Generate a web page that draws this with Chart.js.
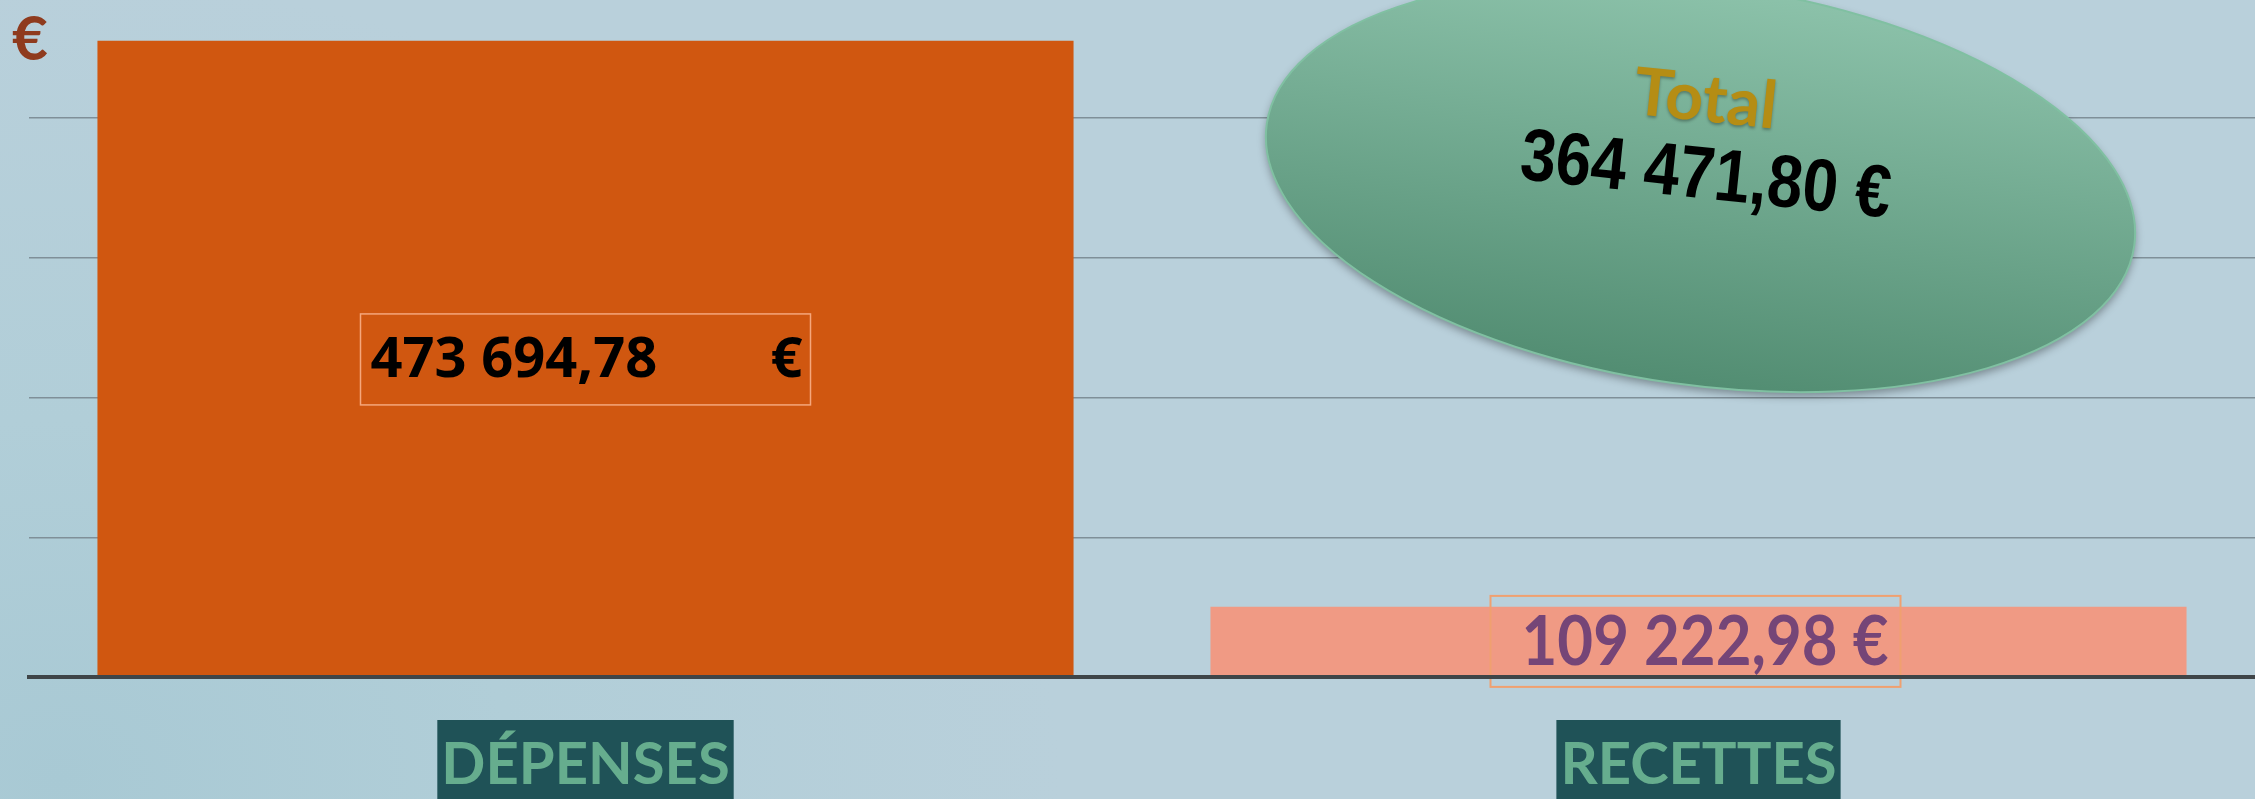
<!DOCTYPE html>
<html>
<head>
<meta charset="utf-8">
<script src="https://cdn.jsdelivr.net/npm/chart.js@4.4.0/dist/chart.umd.min.js"></script>
<style>
html, body { margin: 0; padding: 0; width: 2255px; height: 799px; overflow: hidden; }
body { background: radial-gradient(ellipse 1000px 800px at 60px 780px, #a8c9d4 0%, #b1ced8 45%, #b9d0db 100%); }
canvas { display: block; }
</style>
</head>
<body>
<canvas id="graf" width="2255" height="799"></canvas>
<script>
// données
const categories = ['DÉPENSES', 'RECETTES'];
const montants = [473694.78, 109222.98];
const couleurs = ['#d05710', '#f09a84'];
const yMin = 64000;
const yMax = 500000;
const yPas = 90000;

function formatEuro(v) {
    const parts = v.toFixed(2).split('.');
    return parts[0].replace(/\B(?=(\d{3})+(?!\d))/g, ' ') + ',' + parts[1];
}
const total = montants[0] - montants[1];

// texte horizontalement compressé pour tenir dans une largeur
function texteLargeur(ctx, txt, x, y, largeur) {
    const w = ctx.measureText(txt).width;
    ctx.save();
    ctx.translate(x, y);
    ctx.scale(largeur / w, 1);
    ctx.fillText(txt, 0, 0);
    ctx.restore();
}

const etiquettes = {
    id: 'etiquettes',
    afterDatasetsDraw(chart) {
        const ctx = chart.ctx;
        const bars = chart.getDatasetMeta(0).data;
        const bas = chart.chartArea.bottom;

        // symbole € en haut à gauche
        ctx.save();
        ctx.fillStyle = '#8f3b1e';
        ctx.font = 'bold 62px Lato';
        ctx.textBaseline = 'alphabetic';
        ctx.fillText('€', 12, 60);
        ctx.restore();

        // étiquette dépenses
        let b = bars[0];
        let cy = (b.y + bas) / 2;
        ctx.save();
        ctx.strokeStyle = '#f5a77c';
        ctx.lineWidth = 1.5;
        ctx.strokeRect(b.x - 225, cy - 45, 450, 91);
        ctx.fillStyle = '#000';
        ctx.font = 'bold 56px "Noto Sans"';
        ctx.textBaseline = 'middle';
        ctx.textAlign = 'left';
        ctx.fillText(formatEuro(montants[0]), b.x - 215, cy + 2);
        ctx.textAlign = 'right';
        ctx.fillText('€', b.x + 217, cy + 2);
        ctx.restore();

        // étiquette recettes
        b = bars[1];
        cy = (b.y + bas) / 2;
        ctx.save();
        ctx.strokeStyle = '#f0a070';
        ctx.lineWidth = 2;
        ctx.strokeRect(b.x - 208, cy - 46, 410, 91);
        ctx.fillStyle = '#754577';
        ctx.font = 'bold 68px Lato';
        ctx.textBaseline = 'middle';
        ctx.textAlign = 'left';
        texteLargeur(ctx, formatEuro(montants[1]) + ' €', b.x - 177, cy + 1, 367);
        ctx.restore();

        // bulle du total
        const ex = b.x + 2, ey = 185;
        ctx.save();
        ctx.translate(ex, ey);
        ctx.rotate(8 * Math.PI / 180);
        const grad = ctx.createLinearGradient(0, -200, 0, 200);
        grad.addColorStop(0, '#8cc2aa');
        grad.addColorStop(1, '#528d72');
        ctx.shadowColor = 'rgba(0,0,0,0.35)';
        ctx.shadowBlur = 8;
        ctx.shadowOffsetY = 4;
        ctx.beginPath();
        ctx.ellipse(0, 0, 438, 200, 0, 0, Math.PI * 2);
        ctx.fillStyle = grad;
        ctx.fill();
        ctx.shadowColor = 'transparent';
        ctx.strokeStyle = '#80c0a2';
        ctx.lineWidth = 2;
        ctx.stroke();
        ctx.restore();

        ctx.save();
        ctx.translate(ex + 5, 100);
        ctx.rotate(6 * Math.PI / 180);
        ctx.textAlign = 'center';
        ctx.textBaseline = 'middle';
        ctx.font = 'bold 66px Lato';
        ctx.fillStyle = '#b58d14';
        ctx.shadowColor = 'rgba(0,0,0,0.3)';
        ctx.shadowBlur = 3;
        ctx.shadowOffsetY = 2;
        ctx.fillText('Total', 0, 0);
        ctx.restore();

        ctx.save();
        ctx.translate(ex + 5, 178);
        ctx.rotate(6 * Math.PI / 180);
        ctx.textAlign = 'left';
        ctx.textBaseline = 'middle';
        ctx.font = 'bold 74px "Liberation Sans"';
        ctx.fillStyle = '#000';
        texteLargeur(ctx, formatEuro(total) + ' €', -186, 0, 372);
        ctx.restore();
    }
};

const ctxGraf = document.getElementById('graf').getContext('2d');
const graf = new Chart(ctxGraf, {
    type: 'bar',
    data: {
        labels: categories,
        datasets: [{
            data: montants,
            backgroundColor: couleurs,
            borderWidth: 0,
            categoryPercentage: 1,
            barPercentage: 0.877
        }]
    },
    options: {
        responsive: false,
        devicePixelRatio: 1,
        animation: false,
        layout: { padding: 0 },
        plugins: {
            legend: { display: false },
            tooltip: { enabled: false }
        },
        scales: {
            x: {
                grid: { display: false, drawTicks: false },
                border: { color: '#3f4548', width: 4, z: 1 },
                ticks: {
                    font: { family: 'Lato', size: 58, weight: 'bold' },
                    color: '#66ad8e',
                    padding: 53,
                    showLabelBackdrop: true,
                    backdropColor: '#1f5257',
                    backdropPadding: { top: 10, bottom: 20, left: 4, right: 4 }
                },
                afterFit: scale => { scale.height = 122; }
            },
            y: {
                min: yMin,
                max: yMax,
                afterBuildTicks: scale => {
                    const t = [];
                    for (let v = yMin; v < yMax; v += yPas) t.push({ value: v });
                    scale.ticks = t;
                },
                ticks: { display: false },
                grid: { color: '#7f8f98', lineWidth: 1.5, drawTicks: false },
                border: { display: false },
                afterFit: scale => { scale.width = 29; }
            }
        }
    },
    plugins: [etiquettes]
});
</script>
</body>
</html>
